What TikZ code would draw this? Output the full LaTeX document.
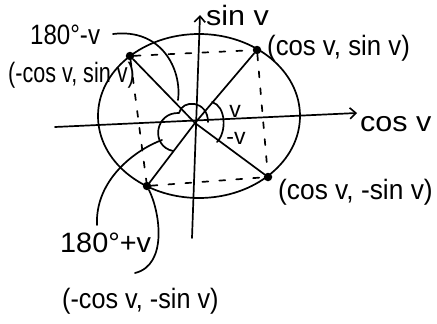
\documentclass[tikz,border=0pt]{standalone}
\usepackage{fontspec}
\setmainfont{Liberation Sans}
\usetikzlibrary{arrows.meta}
\newcommand{\hwtext}[2]{\scalebox{#1}[1]{#2}}
\begin{document}
\begin{tikzpicture}[x=1pt,y=-1pt,
  pen/.style={line width=1.7pt,line cap=round,line join=round},
  dashln/.style={pen,dash pattern=on 6pt off 11pt},
  hand/.style={font=\fontsize{28}{30}\selectfont,inner sep=0pt},
  small/.style={font=\fontsize{23}{25}\selectfont,inner sep=0pt},
  dot/.style={circle,fill=black,inner sep=0pt,minimum size=8.5pt},
  axarrow/.style={pen,-{Straight Barb[length=6pt,width=11pt,line width=1.6pt]}}]
\useasboundingbox (0,0) rectangle (437,324);
% key points
\coordinate (O) at (195,123);
\coordinate (C) at (199,116);
\node[dot] (Q1) at (257,50) {};
\node[dot] (Q2) at (130,56) {};
\node[dot] (Q3) at (147,186) {};
\node[dot] (Q4) at (268,177) {};
% circle
\draw[pen] (C) ellipse [x radius=101, y radius=82];
% axes
\coordinate (xl) at (55,127);
\coordinate (xr) at (357,113);
\coordinate (yb) at (192,238);
\coordinate (yt) at (200,15);
\draw[axarrow] (xl) -- (xr);
\draw[axarrow] (yb) -- (yt);
% radii
\draw[pen] (O) -- (Q1);
\draw[pen] (O) -- (Q2);
\draw[pen] (O) -- (Q3);
\draw[pen] (O) -- (Q4);
% dashed projections
\draw[dashln] (Q2) -- (Q1);
\draw[dashln] (Q1) -- (Q4);
\draw[dashln] (Q3) -- (Q4);
\draw[dashln] (Q2) -- (Q3);
% angle arcs
\coordinate (a1) at (212,102);
\coordinate (a2) at (217,142);
\draw[pen] (a1) .. controls (226,106) and (227,132) .. (a2);
\coordinate (b1) at (208,122);
\coordinate (b2) at (179,113);
\coordinate (b3) at (173,151);
\draw[pen] (b1) .. controls (208,100) and (182,99) .. (b2)
  .. controls (155,112) and (150,146) .. (b3);
% labels
\node[hand,anchor=west] (sinl) at (206,15) {\hwtext{1.09}{sin v}};
\node[hand,anchor=west] (cosl) at (360,124) {\hwtext{1.09}{cos v}};
\node[hand,anchor=west] (p1) at (267,48) {\hwtext{0.92}{(cos v, sin v)}};
\node[hand,anchor=west] (p2) at (8,75) {\hwtext{0.77}{(-cos v, sin v)}};
\node[hand,anchor=west] (p3) at (62,301) {\hwtext{0.9}{(-cos v, -sin v)}};
\node[hand,anchor=west] (p4) at (278,192) {\hwtext{0.94}{(cos v, -sin v)}};
\node[hand,anchor=west] (t1) at (30,35) {\hwtext{0.86}{180°-v}};
\node[hand,anchor=west] (t2) at (60,243) {\hwtext{1.03}{180°+v}};
\node[small] (lv) at (235,111) {v};
\node[small] (lmv) at (236,138) {-v};
% leaders
\coordinate (l1) at (113,34);
\draw[pen] (l1) .. controls (162,28) and (182,70) .. (178,100);
\coordinate (l2) at (97,225);
\draw[pen] (l2) .. controls (95,180) and (135,150) .. (162,140);
\coordinate (l3) at (135,273);
\draw[pen] (l3) .. controls (168,265) and (160,212) .. (Q3);
\end{tikzpicture}
\end{document}
